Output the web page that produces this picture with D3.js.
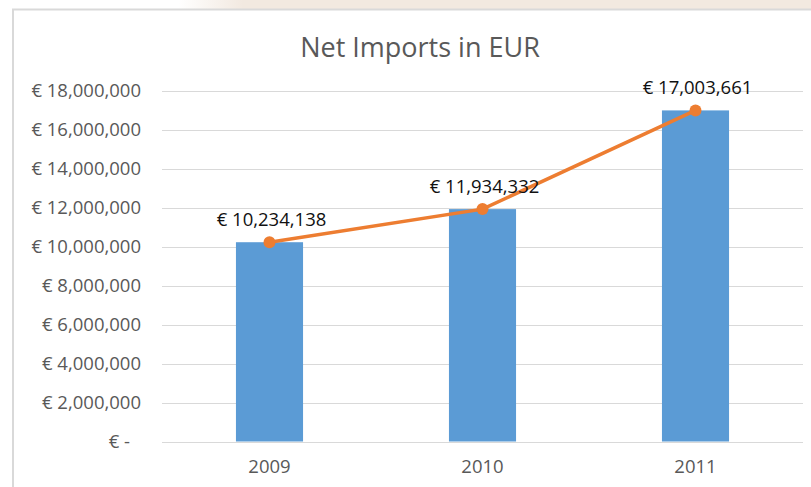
<!DOCTYPE html>
<html>
<head>
<meta charset="utf-8">
<script src="https://cdn.jsdelivr.net/npm/d3@7"></script>
<style>
  body { margin: 0; background: #fff; }
  svg text { font-family: "Open Sans", "Noto Sans", sans-serif; }
</style>
</head>
<body>
<svg id="chart" width="811" height="487"></svg>
<script>
// data
const years = ['2009', '2010', '2011'];
const netImports = [10234138, 11934332, 17003661];
const yTicks = [0, 2000000, 4000000, 6000000, 8000000, 10000000, 12000000, 14000000, 16000000, 18000000];

const svg = d3.select('#chart');

// beige strip behind the chart frame
const grad = svg.append('defs').append('linearGradient').attr('id', 'topfade');
grad.append('stop').attr('offset', '0%').attr('stop-color', '#ffffff');
grad.append('stop').attr('offset', '22%').attr('stop-color', '#ffffff');
grad.append('stop').attr('offset', '30%').attr('stop-color', '#f2e9e0');
grad.append('stop').attr('offset', '100%').attr('stop-color', '#f2e9e0');
svg.append('rect').attr('x', 0).attr('y', 0).attr('width', 811).attr('height', 9)
    .attr('fill', 'url(#topfade)');

// chart frame
svg.append('rect')
    .attr('x', 13).attr('y', 9.5).attr('width', 820).attr('height', 500)
    .attr('fill', '#fff').attr('stroke', '#d9d9d9').attr('stroke-width', 2);

const x = d3.scaleBand().domain(years).range([163, 802])
    .paddingInner(0.685).paddingOuter(0.3425);
const y = d3.scaleLinear().domain([0, 18000000]).range([441.5, 91]);

// title
svg.append('text')
    .attr('x', 420).attr('y', 57)
    .attr('text-anchor', 'middle')
    .attr('fill', '#595959')
    .style('font-size', '27px')
    .text('Net Imports in EUR');

// gridlines
svg.append('g').selectAll('line')
    .data(yTicks)
    .join('line')
    .attr('x1', 162).attr('x2', 803)
    .attr('y1', d => Math.round(y(d)) + 0.5).attr('y2', d => Math.round(y(d)) + 0.5)
    .attr('stroke', '#d9d9d9').attr('stroke-width', 1);

// y labels
const fmt = d3.format(',');
svg.append('g').selectAll('text')
    .data(yTicks)
    .join('text')
    .attr('x', d => d === 0 ? 130 : 141)
    .attr('y', d => y(d))
    .attr('dy', '0.35em')
    .attr('text-anchor', 'end')
    .attr('fill', '#595959')
    .style('font-size', '18.5px')
    .text(d => d === 0 ? '€ -' : '€ ' + fmt(d));

// bars
svg.append('g').selectAll('rect')
    .data(netImports)
    .join('rect')
    .attr('x', (d, i) => x(years[i]))
    .attr('y', d => y(d))
    .attr('width', x.bandwidth())
    .attr('height', d => y(0) - y(d))
    .attr('fill', '#5b9bd5');

// baseline
svg.append('line')
    .attr('x1', 162).attr('x2', 803)
    .attr('y1', Math.round(y(0)) + 0.5).attr('y2', Math.round(y(0)) + 0.5)
    .attr('stroke', '#d9d9d9');

// x labels
svg.append('g').selectAll('text')
    .data(years)
    .join('text')
    .attr('x', d => x(d) + x.bandwidth() / 2)
    .attr('y', 467)
    .attr('dy', '0.35em')
    .attr('text-anchor', 'middle')
    .attr('fill', '#595959')
    .style('font-size', '18.5px')
    .text(d => d);

// line + markers
const cx = i => x(years[i]) + x.bandwidth() / 2;
const line = d3.line().x((d, i) => cx(i)).y(d => y(d));
svg.append('path')
    .datum(netImports)
    .attr('d', line)
    .attr('fill', 'none')
    .attr('stroke', '#ed7d31')
    .attr('stroke-width', 3.5)
    .attr('stroke-linecap', 'round');

svg.append('g').selectAll('circle')
    .data(netImports)
    .join('circle')
    .attr('cx', (d, i) => cx(i))
    .attr('cy', d => y(d))
    .attr('r', 6)
    .attr('fill', '#ed7d31');

// data labels
svg.append('g').selectAll('text')
    .data(netImports)
    .join('text')
    .attr('x', (d, i) => cx(i) + 2)
    .attr('y', d => y(d) - 23)
    .attr('dy', '0.35em')
    .attr('text-anchor', 'middle')
    .attr('fill', '#111')
    .style('font-size', '18.5px')
    .text(d => '€ ' + fmt(d));
</script>
</body>
</html>
